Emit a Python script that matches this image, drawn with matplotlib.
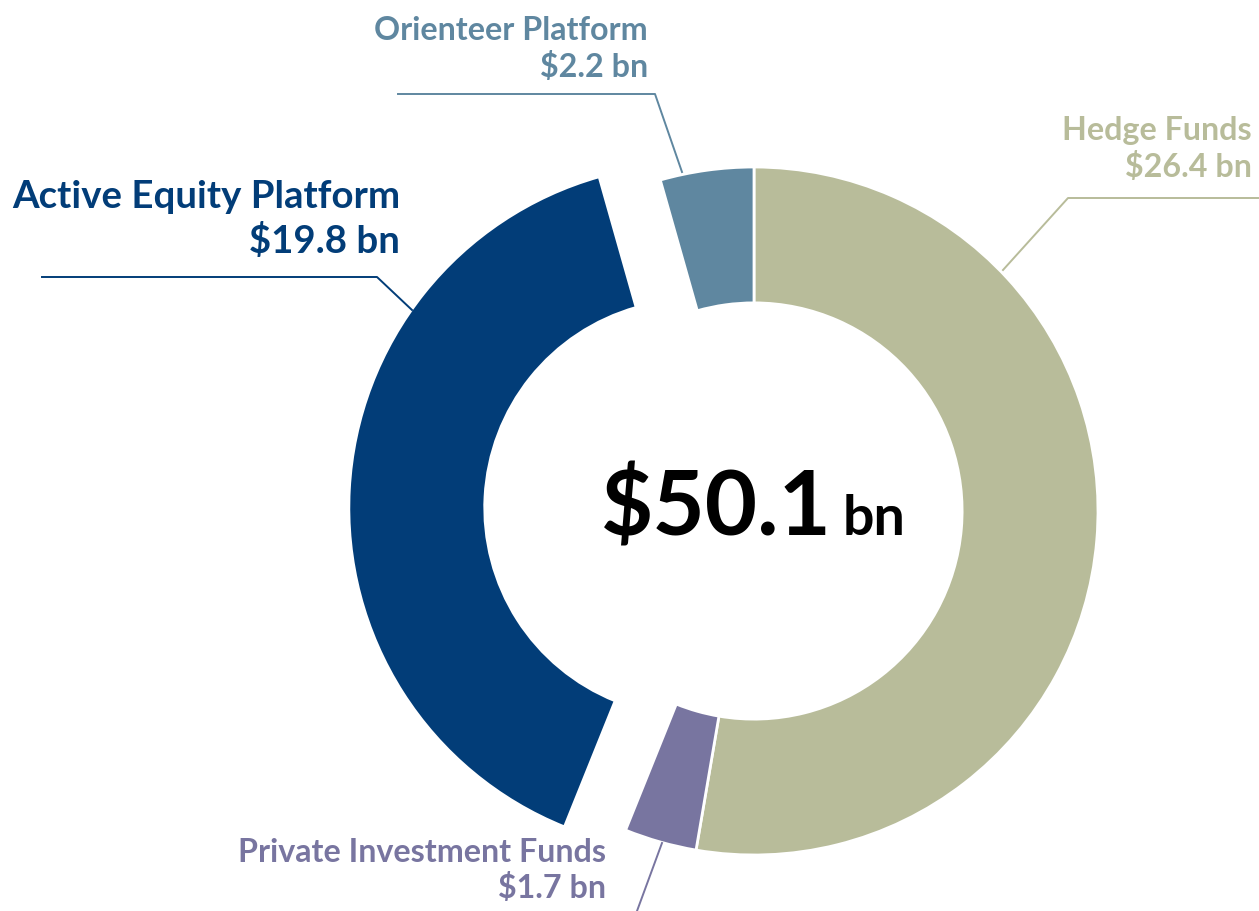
import matplotlib
matplotlib.use('Agg')
import matplotlib.pyplot as plt

# clockwise from 12 o'clock
segments = ['Hedge Funds', 'Private Investment Funds', 'Active Equity Platform', 'Orienteer Platform']
values = [26.4, 1.7, 19.8, 2.2]
value_labels = ['$26.4 bn', '$1.7 bn', '$19.8 bn', '$2.2 bn']
total_label = '$50.1'
colors = ['#b8bc9a', '#7875a0', '#023d78', '#5f87a0']
explode_frac = [0, 0, 0.178, 0]

W, H = 1259, 911
plt.rcParams['font.family'] = ['Lato', 'DejaVu Sans']

fig = plt.figure(figsize=(W / 100, H / 100), dpi=100)
ax = fig.add_axes([0, 0, 1, 1])

# pixel coordinates, y pointing down -> counterclock in data is clockwise on screen
cx, cy, r = 754, 511, 344
# pie's explode offset is in data units, so scale by the radius
ax.pie(values, colors=colors, explode=[e * r for e in explode_frac], center=(cx, cy), radius=r,
       startangle=-90, counterclock=True,
       wedgeprops=dict(width=r * 0.395, edgecolor='white', linewidth=2))
ax.set_xlim(0, W)
ax.set_ylim(H, 0)
ax.set_aspect('equal')
ax.axis('off')

# centre total
ax.text(832, 535, total_label, fontsize=65, fontweight='bold', color='black', ha='right', va='baseline')
ax.text(843, 535, 'bn', fontsize=40, fontweight='bold', color='black', ha='left', va='baseline')

# labels and leader lines
lw = 1.4
fs = 23.2
# Hedge Funds
ax.text(1252, 140, segments[0], fontsize=fs, fontweight='bold', color=colors[0], ha='right', va='baseline')
ax.text(1252, 177, value_labels[0], fontsize=fs, fontweight='bold', color=colors[0], ha='right', va='baseline')
ax.plot([1003, 1068, 1259], [270, 198, 198], color=colors[0], lw=lw)

# Orienteer Platform
ax.text(648, 40, segments[3], fontsize=fs, fontweight='bold', color=colors[3], ha='right', va='baseline')
ax.text(648, 77, value_labels[3], fontsize=fs, fontweight='bold', color=colors[3], ha='right', va='baseline')
ax.plot([398, 655, 682], [94, 94, 172], color=colors[3], lw=lw)

# Active Equity Platform
ax.text(400, 208, segments[2], fontsize=27.6, fontweight='bold', color=colors[2], ha='right', va='baseline')
ax.text(400, 253, value_labels[2], fontsize=27.6, fontweight='bold', color=colors[2], ha='right', va='baseline')
ax.plot([42, 377, 412], [277, 277, 310], color=colors[2], lw=lw)

# Private Investment Funds
ax.text(606, 862, segments[1], fontsize=fs, fontweight='bold', color=colors[1], ha='right', va='baseline')
ax.text(606, 898, value_labels[1], fontsize=fs, fontweight='bold', color=colors[1], ha='right', va='baseline')
ax.plot([662, 637], [843, 911], color=colors[1], lw=lw)

fig.savefig('out.png', dpi=100, facecolor='white')
